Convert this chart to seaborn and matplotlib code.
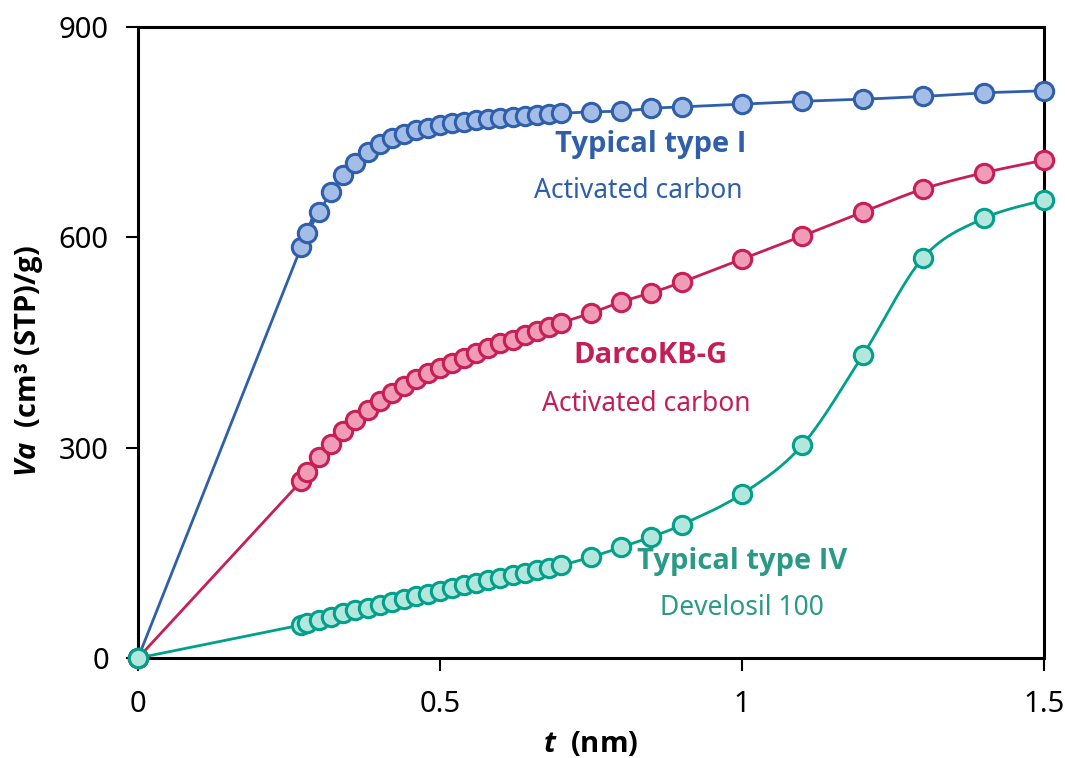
import numpy as np
import pandas as pd
import matplotlib
matplotlib.use("Agg")
import matplotlib.pyplot as plt
import seaborn as sns

# ---- data ----
t_nm = [0, 0.27, 0.28, 0.30, 0.32, 0.34, 0.36, 0.38, 0.40, 0.42, 0.44, 0.46,
        0.48, 0.50, 0.52, 0.54, 0.56, 0.58, 0.60, 0.62, 0.64, 0.66, 0.68, 0.70,
        0.75, 0.80, 0.85, 0.90, 1.0, 1.1, 1.2, 1.3, 1.4, 1.5]
va_type1 = [0, 586, 606, 636, 665, 689, 706, 722, 733, 742, 747, 753, 756, 760,
            763, 765, 767, 769, 770, 772, 773, 774, 776, 777, 779, 780, 784, 786,
            790, 794, 797, 801, 806, 809]
va_darco = [0, 252, 265, 287, 305, 324, 340, 354, 367, 378, 388, 398, 406, 413,
            421, 428, 435, 442, 449, 454, 461, 467, 472, 478, 492, 508, 521, 536,
            569, 602, 636, 669, 692, 710]
va_type4 = [0, 47, 50, 54, 59, 64, 68, 72, 76, 80, 84, 88, 92, 96, 100, 104, 107,
            111, 114, 118, 121, 125, 128, 132, 144, 158, 173, 190, 234, 304, 432,
            571, 627, 653]

series_names = ["Typical type I", "DarcoKB-G", "Typical type IV"]
series_values = [va_type1, va_darco, va_type4]
line_colors = ["#2F5FAA", "#C81E55", "#00A08A"]
fill_colors = ["#A4BDE7", "#F09BB7", "#B3E6DD"]

x_ticks = [0, 0.5, 1, 1.5]
x_tick_labels = ["0", "0.5", "1", "1.5"]
y_ticks = [0, 300, 600, 900]
y_tick_labels = ["0", "300", "600", "900"]

labels_bold = ["Typical type I", "DarcoKB-G", "Typical type IV"]
labels_sub = ["Activated carbon", "Activated carbon", "Develosil 100"]
label_pos_bold = [(0.848, 732), (0.848, 432), (1.0, 137)]
label_pos_sub = [(0.828, 666), (0.841, 362), (1.0, 71)]
text_colors = ["#2F5FAA", "#C41E56", "#2A9A86"]

# ---- theme ----
sns.set_theme(style="white")
plt.rcParams["font.family"] = ["Noto Sans", "DejaVu Sans"]
plt.rcParams["mathtext.fontset"] = "custom"
plt.rcParams["mathtext.bfit"] = "Open Sans:bold:italic"
plt.rcParams["mathtext.rm"] = "Open Sans:bold"
plt.rcParams["mathtext.bf"] = "Open Sans:bold"

FS = 21
BOLD_FAMILY = ["Open Sans", "DejaVu Sans"]


def smooth(xs, ys, n=30):
    """Bezier smoothing (Excel-like) in screen-scaled space."""
    sx, sy = 604.0, 631.0 / 900
    P = np.column_stack([np.asarray(xs) * sx, np.asarray(ys) * sy])
    P = np.vstack([P[0], P, P[-1]])
    out = []
    for i in range(1, len(P) - 2):
        p0, p1, p2, p3 = P[i - 1], P[i], P[i + 1], P[i + 2]
        c1 = p1 + (p2 - p0) / 6.0
        c2 = p2 - (p3 - p1) / 6.0
        u = np.linspace(0, 1, n, endpoint=False)[:, None]
        b = ((1 - u) ** 3) * p1 + 3 * ((1 - u) ** 2) * u * c1 + 3 * (1 - u) * u ** 2 * c2 + u ** 3 * p2
        out.append(b)
    out.append(P[-1][None, :])
    out = np.vstack(out)
    return out[:, 0] / sx, out[:, 1] / sy


fig = plt.figure(figsize=(10.65, 7.58), dpi=100)
ax = fig.add_axes([0.1296, 0.1319, 0.9803 - 0.1296, 0.9644 - 0.1319])

for name, vals, lc, fc in zip(series_names, series_values, line_colors, fill_colors):
    xs, ys = smooth(t_nm, vals)
    sns.lineplot(x=xs, y=ys, ax=ax, color=lc, linewidth=2.0, sort=False,
                 estimator=None, zorder=2)
    df = pd.DataFrame({"t": t_nm, "va": vals})
    sns.scatterplot(data=df, x="t", y="va", ax=ax, s=175, color=fc,
                    edgecolor=lc, linewidth=2.2, zorder=3, clip_on=False)

for txt, (x, y), c in zip(labels_bold, label_pos_bold, text_colors):
    ax.text(x, y, txt, color=c, fontsize=FS, fontweight="bold",
            family=BOLD_FAMILY, ha="center", va="center")
for txt, (x, y), c in zip(labels_sub, label_pos_sub, text_colors):
    ax.text(x, y, txt, color=c, fontsize=19, ha="center", va="center")

ax.set_xlim(0, 1.5)
ax.set_ylim(0, 900)
ax.set_xticks(x_ticks)
ax.set_xticklabels(x_tick_labels)
ax.set_yticks(y_ticks)
ax.set_yticklabels(y_tick_labels)
ax.tick_params(axis="y", direction="out", length=9, width=1.5, color="black",
               labelsize=FS, labelcolor="black", pad=12, left=True)
ax.tick_params(axis="x", direction="out", length=9, width=1.5, color="black",
               labelsize=FS, labelcolor="black", pad=14, bottom=True)
for sp in ax.spines.values():
    sp.set_visible(True)
    sp.set_color("black")
    sp.set_linewidth(2.2)

ax.set_xlabel(r"$\mathbfit{t}$  (nm)", fontsize=FS, fontweight="bold",
              family=BOLD_FAMILY, labelpad=8, color="black")
ax.set_ylabel(r"$\mathbfit{Va}$  (cm³ (STP)/g)", fontsize=FS,
              fontweight="bold", family=BOLD_FAMILY, color="black")
ax.yaxis.set_label_coords(-0.103, 0.47)

fig.savefig("out.png", dpi=100)
